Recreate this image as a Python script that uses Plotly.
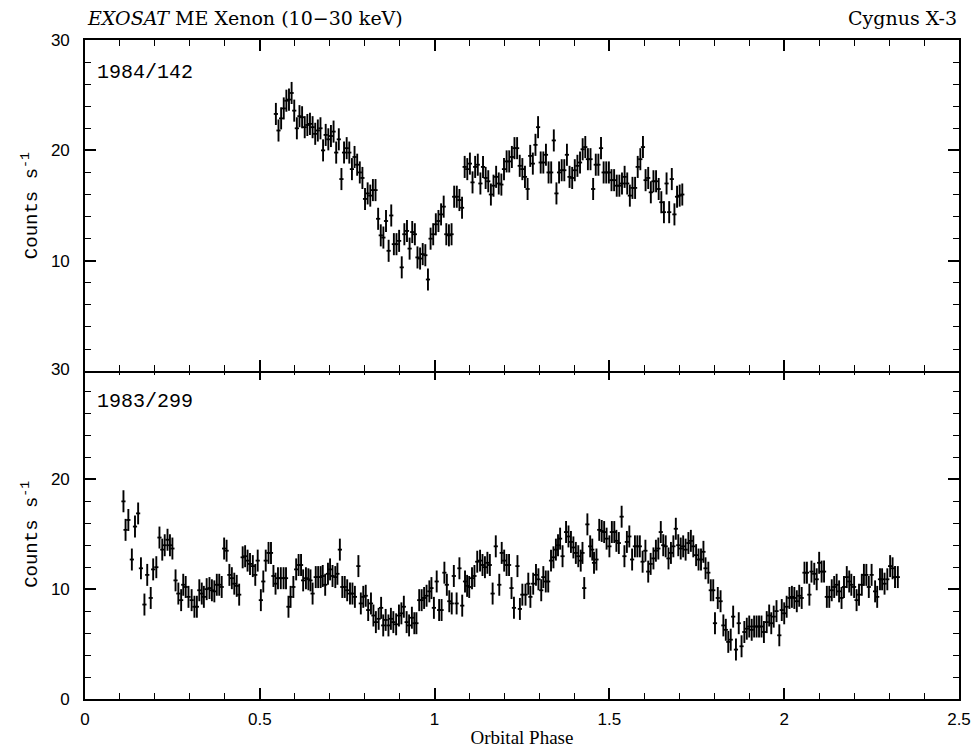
import numpy as np
import plotly.graph_objects as go

# ---------------- data ----------------
# Top panel: 1984/142, regular phase bins
top_phase_start = 0.546
top_phase_step = 0.0075
counts_top = [
    23.3, 21.8, 22.9, 23.8, 24.5, 24.6, 25.2, 23.6, 22.0, 23.1,
    23.0, 22.1, 22.3, 22.4, 22.1, 21.5, 21.8, 22.0, 20.0, 21.4,
    21.0, 21.3, 21.7, 19.8, 21.0, 17.4, 19.8, 20.2, 19.8, 18.3,
    19.4, 18.7, 18.0, 17.5, 15.6, 16.1, 15.9, 16.4, 16.4, 13.8,
    12.3, 12.1, 13.6, 10.9, 14.1, 11.5, 11.5, 11.8, 9.4, 12.4,
    12.7, 11.1, 12.6, 12.4, 10.3, 10.2, 10.6, 10.5, 8.3, 12.0,
    12.4, 13.3, 13.6, 14.2, 14.9, 12.4, 12.3, 12.4, 15.8, 15.8,
    15.5, 14.8, 18.5, 18.3, 18.8, 17.1, 18.5, 18.7, 17.0, 18.5,
    17.5, 17.2, 16.0, 16.8, 17.6, 17.0, 16.9, 18.3, 19.0, 19.0,
    19.4, 20.2, 20.2, 18.6, 18.3, 17.6, 16.5, 19.5, 18.8, 20.5,
    22.1, 18.9, 18.9, 19.6, 18.0, 18.0, 20.9, 16.1, 18.0, 18.2,
    18.2, 19.6, 17.6, 17.5, 18.2, 18.6, 18.9, 20.1, 20.3, 19.2,
    19.2, 16.5, 18.7, 18.7, 20.2, 18.0, 18.0, 18.0, 17.3, 17.3,
    16.8, 16.8, 17.0, 17.6, 17.0, 15.9, 16.6, 16.6, 18.5, 19.2,
    20.3, 17.3, 17.5, 16.2, 17.2, 17.2, 16.5, 15.3, 14.4, 17.0,
    14.4, 17.4, 14.2, 15.8, 15.9, 16.0,
]
err_top = 1.0

# Bottom panel: 1983/299
phase_bot = [
    0.110, 0.116, 0.124, 0.134, 0.143, 0.152, 0.160, 0.170, 0.178, 0.188,
    0.195, 0.204, 0.213, 0.221, 0.228, 0.236, 0.243, 0.250, 0.259, 0.267,
    0.275, 0.281, 0.288, 0.296, 0.305, 0.313, 0.320, 0.327, 0.334, 0.340,
    0.348, 0.356, 0.363, 0.370, 0.377, 0.384, 0.391, 0.398, 0.405, 0.413,
    0.420, 0.427, 0.434, 0.441, 0.451, 0.458, 0.465, 0.472, 0.480, 0.487,
    0.494, 0.503, 0.510, 0.517, 0.525, 0.532, 0.539, 0.545, 0.552, 0.560,
    0.568, 0.575, 0.582, 0.588, 0.596, 0.604, 0.611, 0.618, 0.624, 0.632,
    0.639, 0.645, 0.651, 0.660, 0.667, 0.674, 0.680, 0.687, 0.695, 0.701,
    0.708, 0.716, 0.722, 0.729, 0.736, 0.743, 0.750, 0.758, 0.765, 0.772,
    0.782, 0.789, 0.796, 0.803, 0.810, 0.818, 0.825, 0.832, 0.840, 0.847,
    0.853, 0.860, 0.868, 0.875, 0.882, 0.890, 0.898, 0.905, 0.912, 0.920,
    0.927, 0.935, 0.942, 0.948, 0.956, 0.963, 0.970, 0.977, 0.985, 0.991,
    0.998, 1.006, 1.013, 1.020, 1.028, 1.035, 1.042, 1.049, 1.055, 1.063,
    1.071, 1.079, 1.087, 1.093, 1.099, 1.107, 1.114, 1.122, 1.130, 1.137,
    1.144, 1.151, 1.158, 1.166, 1.175, 1.185, 1.192, 1.199, 1.206, 1.213,
    1.220, 1.227, 1.237, 1.244, 1.251, 1.260, 1.268, 1.274, 1.282, 1.290,
    1.297, 1.305, 1.311, 1.318, 1.325, 1.333, 1.340, 1.347, 1.353, 1.359,
    1.366, 1.376, 1.383, 1.390, 1.397, 1.404, 1.411, 1.418, 1.423, 1.428,
    1.437, 1.445, 1.451, 1.456, 1.463, 1.471, 1.478, 1.485, 1.492, 1.500,
    1.507, 1.514, 1.520, 1.527, 1.535, 1.543, 1.550, 1.557, 1.565, 1.573,
    1.580, 1.587, 1.595, 1.603, 1.611, 1.618, 1.626, 1.633, 1.640, 1.647,
    1.654, 1.661, 1.669, 1.676, 1.683, 1.690, 1.697, 1.704, 1.711, 1.718,
    1.726, 1.733, 1.740, 1.748, 1.755, 1.762, 1.769, 1.775, 1.783, 1.790,
    1.797, 1.802, 1.810, 1.818, 1.826, 1.833, 1.840, 1.847, 1.854, 1.862,
    1.870, 1.878, 1.886, 1.893, 1.900, 1.907, 1.914, 1.921, 1.928, 1.935,
    1.942, 1.950, 1.957, 1.963, 1.970, 1.978, 1.986, 1.993, 2.000, 2.007,
    2.015, 2.022, 2.029, 2.036, 2.043, 2.050, 2.058, 2.065, 2.072, 2.078,
    2.086, 2.093, 2.100, 2.107, 2.114, 2.122, 2.129, 2.136, 2.143, 2.150,
    2.157, 2.164, 2.171, 2.179, 2.186, 2.192, 2.200, 2.207, 2.214, 2.222,
    2.228, 2.235, 2.242, 2.250, 2.260, 2.266, 2.274, 2.280, 2.287, 2.295,
    2.303, 2.310, 2.317, 2.325,
]
counts_bot = [
    18.0, 15.4, 16.3, 12.7, 15.7, 16.9, 11.9, 8.6, 11.3, 9.2,
    11.8, 12.0, 14.7, 13.6, 14.0, 14.5, 14.0, 13.7, 10.8, 9.6,
    9.0, 10.4, 10.2, 9.3, 9.0, 8.4, 8.4, 9.9, 9.6, 9.3,
    10.0, 10.1, 9.9, 9.8, 10.4, 10.4, 10.2, 13.7, 13.5, 11.3,
    11.0, 10.5, 10.3, 9.5, 12.9, 13.0, 12.6, 12.3, 12.1, 11.3,
    12.6, 9.0, 10.7, 12.6, 13.3, 13.3, 11.2, 10.5, 11.0, 11.0,
    11.0, 11.0, 8.4, 9.3, 10.2, 11.8, 12.2, 12.2, 10.8, 11.0,
    10.9, 10.8, 9.6, 11.1, 11.1, 11.1, 11.2, 10.4, 11.4, 11.8,
    11.2, 11.1, 11.4, 13.6, 10.2, 10.2, 9.9, 9.6, 9.6, 9.3,
    12.1, 8.7, 9.3, 9.4, 8.1, 8.7, 7.6, 7.0, 7.3, 8.3,
    6.7, 7.2, 6.7, 7.3, 7.0, 6.8, 7.6, 7.8, 8.4, 7.0,
    6.7, 7.4, 6.9, 6.9, 9.0, 9.0, 9.2, 9.4, 9.8, 10.1,
    8.3, 10.7, 8.1, 8.1, 11.5, 10.4, 8.9, 8.7, 11.2, 8.7,
    11.9, 8.5, 10.7, 10.3, 10.2, 11.0, 11.2, 12.5, 12.6, 12.2,
    12.0, 12.4, 12.2, 9.6, 13.9, 10.4, 13.3, 12.6, 12.2, 12.2,
    10.1, 8.3, 12.1, 8.2, 9.5, 9.5, 10.5, 9.3, 10.5, 11.3,
    10.9, 9.9, 11.1, 10.7, 10.7, 12.6, 12.9, 13.6, 14.0, 14.6,
    13.0, 15.2, 14.8, 14.3, 13.8, 13.3, 13.0, 12.6, 13.3, 10.1,
    15.9, 13.9, 13.6, 12.4, 12.7, 15.4, 15.3, 15.2, 14.6, 13.9,
    15.2, 15.2, 14.4, 14.2, 16.6, 13.0, 14.3, 14.8, 12.7, 13.9,
    13.9, 13.9, 12.5, 13.5, 11.6, 12.3, 12.8, 13.5, 13.7, 15.2,
    14.0, 13.9, 12.8, 13.3, 13.9, 15.5, 14.0, 13.7, 13.9, 13.6,
    14.2, 14.4, 13.9, 13.1, 12.7, 12.7, 13.4, 11.9, 11.5, 9.9,
    9.9, 6.9, 9.2, 8.9, 6.7, 6.3, 5.2, 5.4, 7.5, 4.5,
    6.9, 4.8, 6.1, 6.4, 6.6, 6.3, 6.6, 6.6, 6.6, 6.6,
    6.1, 7.0, 7.6, 6.9, 7.5, 8.0, 5.8, 8.1, 7.8, 8.4,
    9.2, 9.3, 9.2, 8.9, 9.4, 9.2, 11.5, 11.5, 9.5, 11.6,
    11.4, 10.9, 12.4, 11.6, 11.6, 9.3, 9.3, 9.9, 10.2, 10.4,
    9.8, 9.2, 10.2, 11.1, 10.7, 10.4, 10.2, 9.0, 9.5, 10.4,
    11.3, 11.3, 10.2, 11.3, 9.8, 9.3, 10.9, 10.9, 10.5, 10.9,
    12.1, 11.9, 11.1, 11.1,
]
err_bot = 1.0
phase_halfwidth = 0.006

phase_top = top_phase_start + top_phase_step * np.arange(len(counts_top))

LW = 1.6
PLOT_H = 752 - 40 - 53

# ---------------- figure ----------------
fig = go.Figure()

def add_panel(x, y, err, xa, ya):
    fig.add_trace(go.Scatter(
        x=x, y=y, mode="markers",
        marker=dict(size=1, color="black"),
        error_y=dict(type="constant", value=err, thickness=1.9, width=0, color="black"),
        error_x=dict(type="constant", value=phase_halfwidth, thickness=1.8, width=0, color="black"),
        xaxis=xa, yaxis=ya, showlegend=False, hoverinfo="x+y",
    ))

add_panel(phase_top, counts_top, err_top, "x2", "y2")
add_panel(phase_bot, counts_bot, err_bot, "x", "y")

tick_font = dict(family="Liberation Sans, Arial, sans-serif", size=17, color="black")
mono_font = dict(family="Liberation Mono, Courier New, monospace", size=19, color="black")
serif_font = dict(family="DejaVu Serif, serif", size=19, color="black")

x_common = dict(
    range=[0, 2.5], tickmode="linear", tick0=0, dtick=0.5,
    ticks="inside", ticklen=11, tickwidth=1.5, tickcolor="#000000",
    showline=True, linewidth=LW, linecolor="black", mirror="allticks",
    showgrid=False, zeroline=False, tickfont=tick_font, automargin=False,
    minor=dict(dtick=0.1, ticks="inside", ticklen=6, tickwidth=1.2, tickcolor="#000000"),
)
y_common = dict(
    range=[0, 30], tickmode="linear", tick0=0, dtick=10,
    ticks="inside", ticklen=11, tickwidth=1.5, tickcolor="#000000",
    showline=True, linewidth=LW, linecolor="black", mirror="allticks",
    showgrid=False, zeroline=False, tickfont=tick_font, ticklabelstandoff=10,
    automargin=False,
    minor=dict(dtick=2, ticks="inside", ticklen=6, tickwidth=1.2, tickcolor="#000000"),
)

fig.update_layout(
    width=977, height=752,
    margin=dict(l=85, r=18, t=40, b=53),
    paper_bgcolor="white", plot_bgcolor="white",
    template="simple_white",
    xaxis=dict(x_common, domain=[0, 1], anchor="y", ticklabelstandoff=4,
               title=dict(text="Orbital Phase",
                          font=dict(family="Liberation Serif, serif", size=19, color="black"),
                          standoff=2)),
    yaxis=dict(y_common, domain=[0, 0.5], anchor="x",
               title=dict(text="Counts s<sup>-1</sup>", font=mono_font, standoff=8)),
    xaxis2=dict(x_common, domain=[0, 1], anchor="y2", showticklabels=False),
    yaxis2=dict(y_common, domain=[0.5 - LW / PLOT_H, 1], anchor="x2",
                tickmode="array", tickvals=[0, 10, 20, 30], ticktext=["", "10", "20", "30"],
                title=dict(text="Counts s<sup>-1</sup>", font=mono_font, standoff=8)),
    annotations=[
        dict(text="<i>EXOSAT</i> ME Xenon (10−30 keV)", x=0, y=1.033, xref="paper", yref="paper",
             xanchor="left", yanchor="middle", showarrow=False, font=serif_font),
        dict(text="Cygnus X-3", x=1, y=1.033, xref="paper", yref="paper",
             xanchor="right", yanchor="middle", showarrow=False, font=serif_font),
        dict(text="1984/142", x=0.012, y=0.951, xref="paper", yref="paper",
             xanchor="left", yanchor="middle", showarrow=False,
             font=dict(mono_font, size=20)),
        dict(text="1983/299", x=0.012, y=0.452, xref="paper", yref="paper",
             xanchor="left", yanchor="middle", showarrow=False,
             font=dict(mono_font, size=20)),
    ],
)

fig.write_html("out.html")
